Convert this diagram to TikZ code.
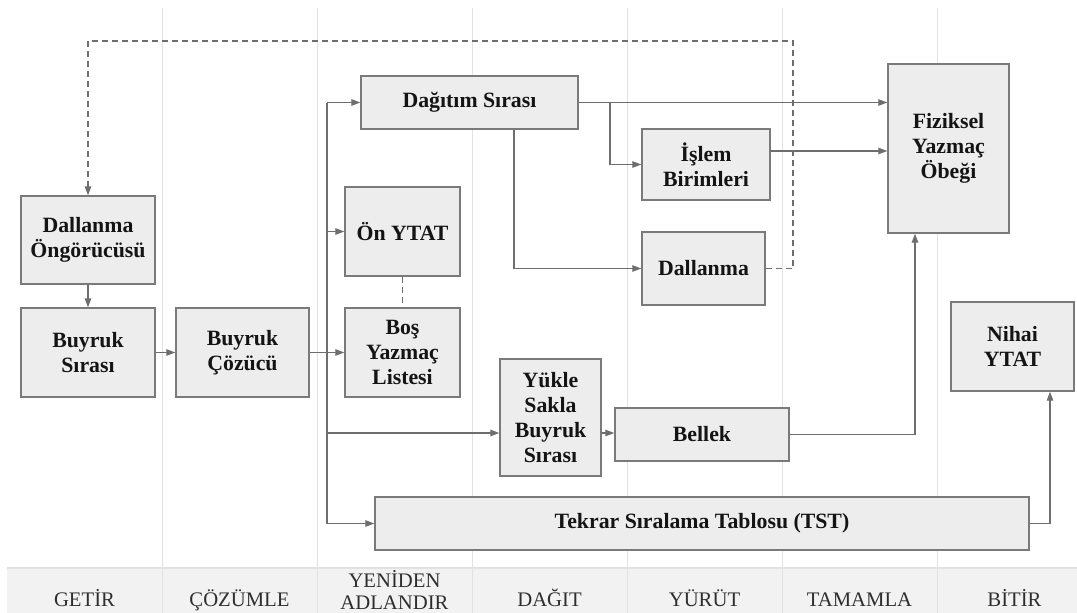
\documentclass[tikz,border=0pt]{standalone}
\usepackage{fontspec}
\setmainfont{Liberation Serif}
\usetikzlibrary{arrows.meta}
\definecolor{boxfill}{HTML}{EDEDED}
\definecolor{boxline}{HTML}{7A7A7A}
\definecolor{wire}{HTML}{6E6E6E}
\definecolor{lane}{HTML}{E2E2E2}
\definecolor{headfill}{HTML}{F2F2F2}
\definecolor{headtext}{HTML}{2E2E2E}
\tikzset{
  unit/.style={draw=boxline, fill=boxfill, line width=1.4pt, inner sep=2pt,
    align=center, text=black!92,
    font=\bfseries\fontsize{21.8}{25}\selectfont},
  wireline/.style={draw=wire, line width=1.3pt},
  arr/.style={wireline, -{Triangle[length=9pt,width=6.5pt]}},
  dashwire/.style={wireline, dash pattern=on 6pt off 4pt},
  stage/.style={text=headtext, align=center, inner sep=0pt,
    font=\fontsize{20.7}{22}\selectfont},
  laneline/.style={draw=lane, line width=1pt}
}
\begin{document}
\begin{tikzpicture}[x=1pt,y=-1pt]
\useasboundingbox (0,0) rectangle (1077,613);

% stage header band and lane separators
\fill[headfill] (7,568) rectangle (1077,613);
\draw[lane, line width=1.5pt] (7,568) -- (1077,568);
\foreach \k in {0,...,5} {
  \draw[laneline] ({162+155*\k},8) -- ({162+155*\k},613);
}
\foreach \lbl [count=\k from 0] in {GETİR,ÇÖZÜMLE,DAĞIT,YÜRÜT,TAMAMLA,BİTİR} {
  \pgfmathsetmacro{\col}{\k<2 ? \k : \k+1}
  \node[stage, anchor=base] (st\k) at ({84.5+155*\col},606) {\lbl};
}
\node[stage] (st6) at (394.5,589.5) {YENİDEN\\ADLANDIR};

% pipeline units
\node[unit, minimum width=134pt, minimum height=88pt] (dpred) at (88,240) {Dallanma\\Öngörücüsü};
\node[unit, minimum width=134pt, minimum height=89pt] (bsira) at (88,352.5) {Buyruk\\Sırası};
\node[unit, minimum width=133pt, minimum height=89pt] (bcoz) at (242.5,352.5) {Buyruk\\Çözücü};
\node[unit, minimum width=115pt, minimum height=89pt] (onytat) at (402.5,231.5) {Ön YTAT};
\node[unit, minimum width=115pt, minimum height=89pt] (bos) at (402.5,352.5) {Boş\\Yazmaç\\Listesi};
\node[unit, minimum width=217pt, minimum height=53pt] (dagitim) at (469.5,102.5) {Dağıtım Sırası};
\node[unit, minimum width=128pt, minimum height=71pt] (islem) at (706,164.5) {İşlem\\Birimleri};
\node[unit, minimum width=123pt, minimum height=73pt] (dal) at (703.5,268.5) {Dallanma};
\node[unit, minimum width=121pt, minimum height=169pt] (fiz) at (948.5,148.5) {Fiziksel\\Yazmaç\\Öbeği};
\node[unit, minimum width=101pt, minimum height=117pt] (yukle) at (550.5,417.5) {Yükle\\Sakla\\Buyruk\\Sırası};
\node[unit, minimum width=174pt, minimum height=53pt] (bellek) at (702,434.5) {Bellek};
\node[unit, minimum width=654pt, minimum height=53pt] (tst) at (702,523.5) {Tekrar Sıralama Tablosu (TST)};
\node[unit, minimum width=123pt, minimum height=89pt] (nihai) at (1012.5,346.5) {Nihai\\YTAT};

% routing points
\coordinate (busTop) at (327,102.5);
\coordinate (busMid) at (327,352.5);
\coordinate (busOn) at (327,231.5);
\coordinate (busLs) at (327,433);
\coordinate (busBot) at (327,523.5);
\coordinate (tapIs) at (610,102.5);
\coordinate (tapDal) at (514,102.5);
\coordinate (isOut) at (770,151);
\coordinate (dashR) at (793,41);
\coordinate (dashL) at (88,41);
\coordinate (memUp) at (915,0);
\coordinate (retUp) at (1050,0);

% fetch and decode
\draw[arr] (dpred) -- (bsira);
\draw[arr] (bsira) -- (bcoz);
\draw[wireline] (bcoz.east) -- (busMid);
\draw[arr] (busMid) -- (bos.west);

% rename bus
\draw[wireline] (busTop) -- (busBot);
\draw[arr] (busTop) -- (dagitim.west);
\draw[arr] (busOn) -- (onytat.west);
\draw[arr] (busLs) -- (busLs -| yukle.west);
\draw[arr] (busBot) -- (tst.west);
\draw[dashwire] (onytat) -- (bos);

% dispatch
\draw[arr] (dagitim.east) -- (dagitim.east -| fiz.west);
\draw[arr] (tapIs) |- (islem.west);
\draw[arr] (tapDal |- dagitim.south) |- (dal.west);
\draw[arr] (isOut) -- (isOut -| fiz.west);

% memory path
\draw[arr] (busLs -| yukle.east) -- (busLs -| bellek.west);
\draw[arr] (bellek.east) -| (memUp |- fiz.south);

% commit
\draw[arr] (tst.east) -| (retUp |- nihai.south);

% branch feedback
\draw[dashwire] (dal.east) -| (dashR) -- (dashL);
\draw[dashwire, -{Triangle[length=9pt,width=6.5pt]}] (dashL) -- (dpred.north);
\end{tikzpicture}
\end{document}
